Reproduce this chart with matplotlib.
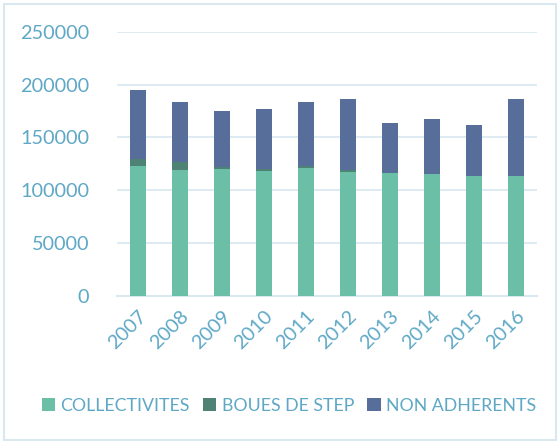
import matplotlib
matplotlib.use("Agg")
import matplotlib.pyplot as plt
from matplotlib.patches import Rectangle
import numpy as np

years = ["2007", "2008", "2009", "2010", "2011", "2012", "2013", "2014", "2015", "2016"]
collectivites = [123000, 119500, 120200, 118600, 121400, 117300, 116100, 115700, 113500, 113200]
boues = [6300, 7300, 1600, 1300, 1600, 1900, 0, 0, 0, 0]
non_adherents = [65400, 57100, 53600, 57100, 60900, 67500, 47600, 51500, 48000, 73200]
series_names = ["COLLECTIVITES", "BOUES DE STEP", "NON ADHERENTS"]
colors = ["#6bbfa6", "#4e8275", "#566e99"]
text_color = "#5ea8c6"
grid_color = "#d9e8f0"

plt.rcParams['font.family'] = ['Lato', 'DejaVu Sans']

fig = plt.figure(figsize=(5.6, 4.41), dpi=100)
ax = fig.add_axes([0.209, 0.329, 0.75, 0.599])

x = np.arange(len(years))
w = 0.38
c = np.array(collectivites)
b = np.array(boues)
n = np.array(non_adherents)
ax.bar(x, c, w, color=colors[0], label=series_names[0], zorder=3)
ax.bar(x, b, w, bottom=c, color=colors[1], label=series_names[1], zorder=3)
ax.bar(x, n, w, bottom=c + b, color=colors[2], label=series_names[2], zorder=3)

ax.set_xlim(-0.5, len(years) - 0.5)
ax.set_ylim(0, 250000)
ax.set_yticks(range(0, 250001, 50000))
ax.yaxis.grid(True, color=grid_color, linewidth=1.2, zorder=0)
ax.set_axisbelow(True)
for s in ["top", "right", "left"]:
    ax.spines[s].set_visible(False)
ax.spines["bottom"].set_color(grid_color)
ax.spines["bottom"].set_linewidth(1.5)
ax.tick_params(axis="both", length=0, colors=text_color, labelsize=14.3)
ax.tick_params(axis="y", pad=20)
ax.set_xticks(x)
ax.set_xticklabels(years, rotation=45, ha="right", rotation_mode="anchor")
ax.tick_params(axis="x", pad=8)

leg = fig.legend(loc="center", bbox_to_anchor=(0.516, 0.08), ncol=3, frameon=False,
                 fontsize=12.8, handlelength=0.75, handleheight=0.75, handletextpad=0.3,
                 columnspacing=0.75)
for t in leg.get_texts():
    t.set_color(text_color)

fig.patches.append(Rectangle((4 / 560, 1 / 441), 1 - 8 / 560, 1 - 5 / 441,
                             transform=fig.transFigure, fill=False,
                             edgecolor="#d9e8f0", linewidth=1.5))

fig.savefig("out.png", dpi=100)
